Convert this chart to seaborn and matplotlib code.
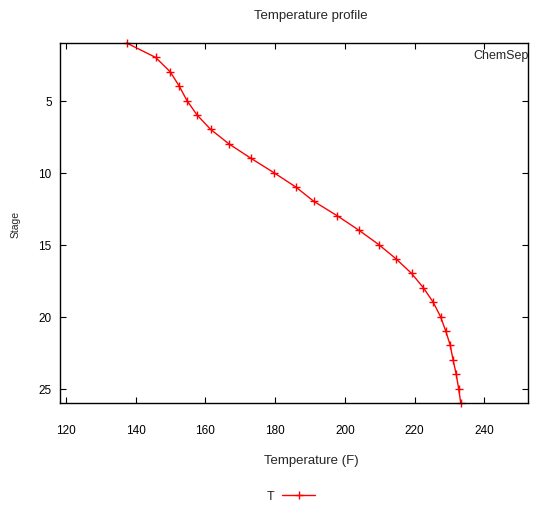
import matplotlib
matplotlib.use("Agg")
import matplotlib.pyplot as plt
import seaborn as sns
import pandas as pd

# Column temperature profile (stage 1 = top of column)
stages = list(range(1, 27))
temperatures = [137.4, 145.7, 149.9, 152.5, 154.7, 157.6, 161.5, 166.7, 173.0,
                179.6, 185.9, 191.1, 197.8, 204.0, 209.7, 214.7, 219.1, 222.5,
                225.3, 227.4, 228.9, 230.2, 231.0, 231.9, 232.6, 233.2]
x_ticks = [120, 140, 160, 180, 200, 220, 240]
y_ticks = [5, 10, 15, 20, 25]
series_name = "T"

sns.set_style("white")
plt.rcParams["font.family"] = ["Liberation Sans", "DejaVu Sans"]

df = pd.DataFrame({"Temperature": temperatures, "Stage": stages})

fig = plt.figure(figsize=(5.48, 5.06), dpi=100)
ax = fig.add_axes([60 / 548, 1 - 404 / 506, (527.7 - 60) / 548, (404 - 44) / 506])

sns.lineplot(data=df, x="Temperature", y="Stage", sort=False, estimator=None,
             color="red", linewidth=1.0, marker="+", markersize=6,
             markeredgecolor="red", markeredgewidth=1.0, label=series_name,
             legend=False, ax=ax, clip_on=False)

ax.set_xlim(118.3, 252.4)
ax.set_ylim(26, 1)
ax.set_xticks(x_ticks)
ax.set_yticks(y_ticks)
ax.tick_params(axis="x", direction="in", length=4, width=0.8, top=True,
               bottom=True, pad=15, labelsize=8.5, colors="black")
ax.tick_params(axis="y", direction="in", length=4, width=0.8, left=True,
               right=True, pad=6, labelsize=8.5, colors="black")
for s in ax.spines.values():
    s.set_color("black")
    s.set_linewidth(1.0)
    s.set_visible(True)
ax.grid(False)
ax.set_xlabel("")
ax.set_ylabel("")

fig.text(311 / 548, 1 - 16 / 506, "Temperature profile", ha="center",
         va="center", fontsize=9.5)
fig.text(311 / 548, 1 - 461 / 506, "Temperature (F)", ha="center",
         va="center", fontsize=9.5)
fig.text(16 / 548, 1 - 224 / 506, "Stage", ha="center", va="center",
         rotation=90, fontsize=7.5)
fig.text(473 / 548, 1 - 56 / 506, "ChemSep", ha="left", va="center",
         fontsize=9)

handles, labels = ax.get_legend_handles_labels()
fig.legend(handles, labels, loc="center", bbox_to_anchor=(291 / 548, 1 - 497 / 506),
           frameon=False, markerfirst=False, fontsize=9, handlelength=2.6,
           handletextpad=0.6, borderpad=0, borderaxespad=0)

fig.savefig("out.png", dpi=100)
